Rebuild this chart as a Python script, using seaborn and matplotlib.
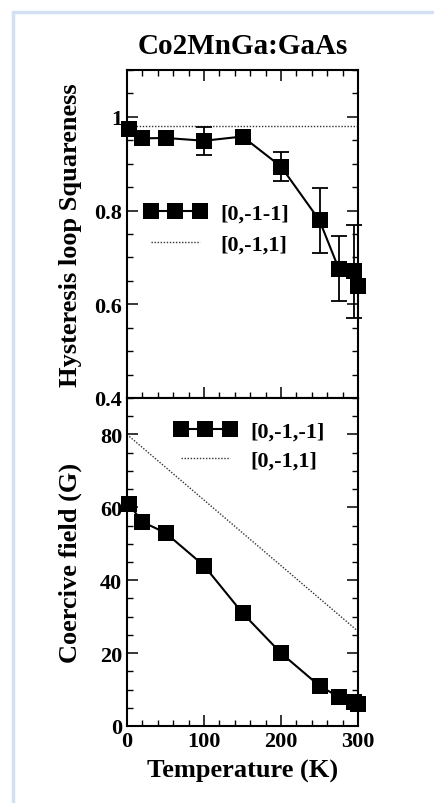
import numpy as np
import matplotlib
matplotlib.use("Agg")
import matplotlib.pyplot as plt
from matplotlib.ticker import MultipleLocator, FuncFormatter
from matplotlib.lines import Line2D
import seaborn as sns

# data
temps = [2, 20, 50, 100, 150, 200, 250, 275, 295, 300]
squareness = [0.975, 0.954, 0.955, 0.949, 0.958, 0.894, 0.779, 0.676, 0.670, 0.640]
squareness_err = [0, 0, 0, 0.03, 0, 0.03, 0.07, 0.07, 0.10, 0]
coercive = [61, 56, 53, 44, 31, 20, 11, 8, 6.5, 6]
dotted_temps = [0, 300]
squareness_dotted = [0.98, 0.98]
coercive_dotted = [80, 26]

sns.set_style("ticks")
plt.rcParams['font.family'] = ['Liberation Serif', 'DejaVu Serif']
plt.rcParams['font.weight'] = 'bold'
plt.rcParams['axes.labelweight'] = 'bold'
plt.rcParams['text.color'] = 'black'
plt.rcParams['axes.labelcolor'] = 'black'
plt.rcParams['xtick.color'] = 'black'
plt.rcParams['ytick.color'] = 'black'

fig = plt.figure(figsize=(4.34, 8.04), dpi=100)
fig.patch.set_facecolor('white')
L, R = 127 / 434, 358 / 434
ax1 = fig.add_axes([L, 1 - 399 / 804, R - L, 328 / 804])
ax2 = fig.add_axes([L, 1 - 727 / 804, R - L, 328 / 804])

# light blue frame (top and left only visible)
frame_col = '#d3e0f2'
fig.add_artist(Line2D([13 / 434, 1.01], [1 - 13 / 804] * 2, color=frame_col, lw=2.5))
fig.add_artist(Line2D([13 / 434] * 2, [-0.01, 1 - 13 / 804], color=frame_col, lw=2.5))

ms = 11
dot_style = (0, (1, 1.2))

# upper panel
err = np.array(squareness_err)
t = np.array(temps)
sq = np.array(squareness)
m = err > 0
eb = ax1.errorbar(t[m], sq[m], yerr=err[m], fmt='none', ecolor='black',
                  elinewidth=1.3, capsize=6, capthick=1.3, zorder=2)
for art in eb.lines[1] + eb.lines[2]:
    art.set_clip_on(False)
sns.lineplot(x=temps, y=squareness, ax=ax1, color='black', lw=1.5,
             marker='s', markersize=ms, markeredgewidth=0, label='[0,-1-1]',
             zorder=3, clip_on=False)
sns.lineplot(x=dotted_temps, y=squareness_dotted, ax=ax1, color='#333333',
             lw=1.0, linestyle=dot_style, label='[0,-1,1]', zorder=1)

# lower panel
sns.lineplot(x=temps, y=coercive, ax=ax2, color='black', lw=1.5,
             marker='s', markersize=ms, markeredgewidth=0, label='[0,-1,-1]',
             zorder=3, clip_on=False)
sns.lineplot(x=dotted_temps, y=coercive_dotted, ax=ax2, color='#333333',
             lw=1.0, linestyle=dot_style, label='[0,-1,1]', zorder=1)

ax1.set_xlim(0, 300)
ax1.set_ylim(0.4, 1.1)
ax2.set_xlim(0, 300)
ax2.set_ylim(0, 90)

for ax in (ax1, ax2):
    for s in ax.spines.values():
        s.set_linewidth(1.5)
        s.set_color('black')
    ax.xaxis.set_major_locator(MultipleLocator(100))
    ax.xaxis.set_minor_locator(MultipleLocator(20))
    ax.tick_params(which='major', direction='in', length=8, width=1.1,
                   labelsize=16, right=True, colors='black')
    ax.tick_params(which='minor', direction='in', length=4, width=1.0,
                   right=True)
    for lab in ax.get_xticklabels() + ax.get_yticklabels():
        lab.set_fontweight('bold')

ax1.yaxis.set_major_locator(MultipleLocator(0.2))
ax1.yaxis.set_minor_locator(MultipleLocator(0.05))
ax1.yaxis.set_major_formatter(FuncFormatter(lambda v, p: '%g' % round(v, 2)))
ax1.tick_params(which='both', top=True, bottom=True, labelbottom=False)

ax2.yaxis.set_major_locator(MultipleLocator(20))
ax2.yaxis.set_minor_locator(MultipleLocator(5))
ax2.set_yticks([0, 20, 40, 60, 80])
ax2.tick_params(which='both', top=False)

ax1.set_xlabel('')
ax1.set_ylabel('Hysteresis loop Squareness', fontsize=19, fontweight='bold')
ax2.set_ylabel('Coercive field (G)', fontsize=19, fontweight='bold')
ax2.set_xlabel('Temperature (K)', fontsize=19, fontweight='bold', labelpad=6)
ax1.yaxis.set_label_coords(-0.195, 0.5)
ax2.yaxis.set_label_coords(-0.195, 0.5)
ax1.set_title('Co2MnGa:GaAs', fontsize=21, fontweight='bold', pad=12)

leg_kw = dict(frameon=False, numpoints=3, handlelength=2.8, handletextpad=0.6,
              borderpad=0, borderaxespad=0, labelspacing=0.5,
              prop={'size': 16, 'weight': 'bold'}, loc='upper left')
ax1.legend(bbox_to_anchor=(0.075, 0.595), **leg_kw)
ax2.legend(bbox_to_anchor=(0.205, 0.93), **dict(leg_kw, labelspacing=0.4))

fig.savefig('out.png', dpi=100, facecolor='white')
